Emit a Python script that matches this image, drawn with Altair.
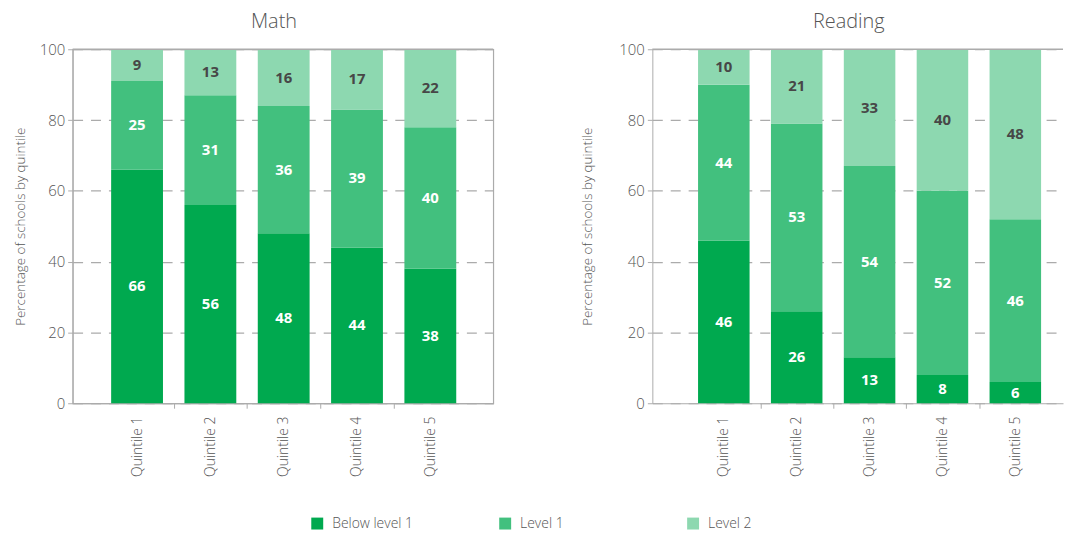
import altair as alt
import pandas as pd

quintiles = ["Quintile 1", "Quintile 2", "Quintile 3", "Quintile 4", "Quintile 5"]
levels = ["Below level 1", "Level 1", "Level 2"]
level_colors = ["#00a94f", "#42c07e", "#8dd8b0"]

math_below = [66, 56, 48, 44, 38]
math_level1 = [25, 31, 36, 39, 40]
math_level2 = [9, 13, 16, 17, 22]

reading_below = [46, 26, 13, 8, 6]
reading_level1 = [44, 53, 54, 52, 46]
reading_level2 = [10, 21, 33, 40, 48]

y_ticks = [0, 20, 40, 60, 80, 100]
y_title = "Percentage of schools by quintile"

FONT = "Open Sans"
GRAY = "#555555"
LINE = "#ababab"
LIGHT = 300


def make_df(series):
    rows = []
    for li, (lvl, vals) in enumerate(zip(levels, series)):
        for q, v in zip(quintiles, vals):
            rows.append({"quintile": q, "level": lvl, "order": li, "value": v})
    return pd.DataFrame(rows)


def panel(title, df, width, pad_outer, align, title_pad, frame):
    x = alt.X(
        "quintile:N", sort=quintiles, title=None,
        scale=alt.Scale(paddingInner=0.293, paddingOuter=pad_outer, align=align),
        axis=alt.Axis(labelAngle=270, labelAlign="right", labelBaseline="middle",
                      labelPadding=8, tickOffset=36.8, labelOffset=-36.8,
                      tickSize=5, tickColor=LINE, domainColor=LINE,
                      tickOpacity=alt.condition(f"datum.value === '{quintiles[-1]}'",
                                                alt.value(0), alt.value(1)),
                      labelFont=FONT, labelFontSize=14, labelFontWeight=LIGHT,
                      labelColor=GRAY),
    )
    y = alt.Y(
        "value:Q", stack="zero", title=y_title,
        scale=alt.Scale(domain=[0, 100], nice=False),
        axis=alt.Axis(values=y_ticks, grid=True, gridDash=[10, 8], gridColor=LINE,
                      gridWidth=1.2, tickSize=5, tickColor=LINE, domainColor=LINE,
                      labelPadding=3, labelFont=FONT, labelFontSize=15,
                      labelFontWeight=LIGHT, labelColor=GRAY,
                      titleFont=FONT, titleFontSize=13.5, titleFontWeight=LIGHT,
                      titleColor=GRAY, titlePadding=title_pad),
    )
    base = alt.Chart(df)
    bars = base.mark_bar().encode(
        x=x, y=y,
        color=alt.Color("level:N", sort=levels,
                        scale=alt.Scale(domain=levels, range=level_colors),
                        legend=alt.Legend(title=None, orient="none", legendX=239, legendY=470,
                                          direction="horizontal", symbolType="square",
                                          symbolSize=144, symbolStrokeWidth=0,
                                          labelFont=FONT, labelFontSize=14,
                                          labelFontWeight=LIGHT, labelColor=GRAY,
                                          labelOffset=8, columnPadding=85, gridAlign="all")),
        order=alt.Order("order:Q", sort="ascending"),
    )
    stacked = base.transform_stack(
        stack="value", groupby=["quintile"],
        sort=[alt.SortField("order", order="ascending")], as_=["v0", "v1"],
    ).transform_calculate(mid="(datum.v0 + datum.v1) / 2")
    white = stacked.transform_filter("datum.order < 2").mark_text(
        font=FONT, fontWeight="bold", fontSize=15, color="white"
    ).encode(x=x, y=alt.Y("mid:Q"), text="value:Q")
    dark = stacked.transform_filter("datum.order == 2").mark_text(
        font=FONT, fontWeight="bold", fontSize=15, color="#474747"
    ).encode(x=x, y=alt.Y("mid:Q"), text="value:Q")
    top = alt.Chart(pd.DataFrame({"v": [y_ticks[-1]]})).mark_rule(
        color=LINE, strokeWidth=1.5
    ).encode(y=alt.Y("v:Q"))
    layers = [bars, white, dark, top]
    ch = alt.layer(*layers).properties(
        width=width, height=356,
        title=alt.TitleParams(title, font=FONT, fontSize=20, fontWeight=LIGHT,
                              color=GRAY, dx=-9, offset=10),
    )
    if frame:
        ch = ch.properties(view=alt.ViewBackground(stroke=LINE, strokeWidth=1.2))
    return ch


math = panel("Math", make_df([math_below, math_level1, math_level2]), 423, 0.515, 0.51, 12, True)
reading = panel("Reading", make_df([reading_below, reading_level1, reading_level2]), 413, 0.464, 0.676, 24, False)

chart = alt.hconcat(math, reading, spacing=86).properties(
    padding={"left": 4, "top": 2, "right": 0, "bottom": 0}
).configure_view(stroke=None)

chart.save("out.html", embed_options={"renderer": "svg", "actions": False})
